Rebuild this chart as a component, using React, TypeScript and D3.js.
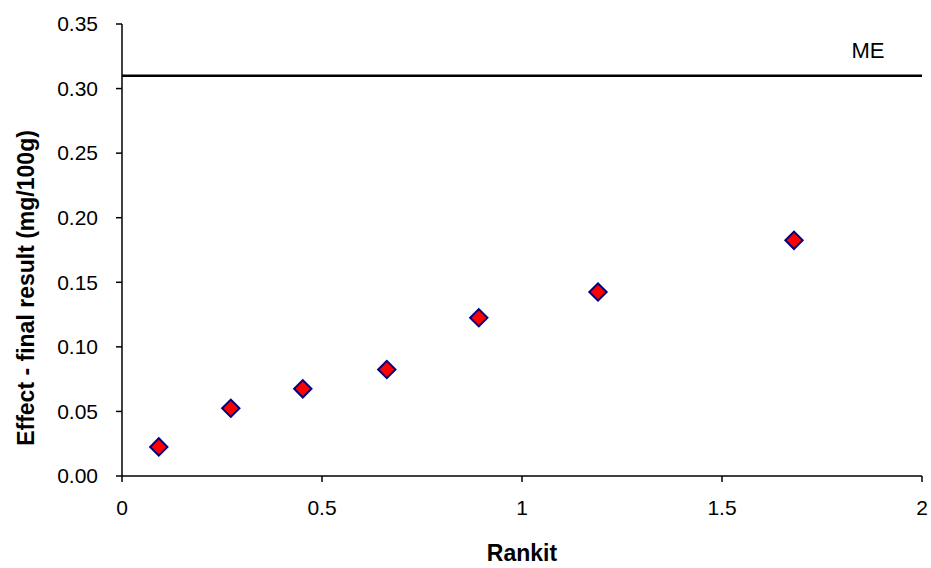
import React from "react";
import * as d3 from "d3";

const rankit = [0.092, 0.272, 0.452, 0.662, 0.892, 1.19, 1.68];
const effect = [0.0225, 0.0525, 0.0675, 0.0825, 0.1225, 0.1425, 0.1825];
const meValue = 0.31;
const meLabel = "ME";
const xTicks = [0, 0.5, 1, 1.5, 2];
const yTicks = [0, 0.05, 0.1, 0.15, 0.2, 0.25, 0.3, 0.35];
const xTitle = "Rankit";
const yTitle = "Effect - final result (mg/100g)";

export default function App() {
  const W = 931, H = 568;
  const left = 122, right = 922, top = 24, bottom = 476;
  const x = d3.scaleLinear().domain([0, 2]).range([left, right]);
  const y = d3.scaleLinear().domain([0, 0.35]).range([bottom, top]);
  const font = "'Liberation Sans', Arial, sans-serif";
  const diamond = d3.symbol().type(d3.symbolSquare).size(150)();
  return (
    <svg width={W} height={H} style={{ position: "absolute", left: 0, top: 0, background: "#fff" }} fontFamily={font}>
      <line x1={left} x2={left} y1={top} y2={bottom} stroke="#000" strokeWidth={1.5} />
      <line x1={left} x2={right} y1={bottom} y2={bottom} stroke="#000" strokeWidth={1.5} />
      {yTicks.map((t) => (
        <g key={"y" + t}>
          <line x1={left - 6} x2={left} y1={y(t)} y2={y(t)} stroke="#000" strokeWidth={1.5} />
          <text x={98} y={y(t)} dy="0.35em" textAnchor="end" fontSize={21} fill="#000">
            {t.toFixed(2)}
          </text>
        </g>
      ))}
      {xTicks.map((t) => (
        <g key={"x" + t}>
          <line x1={x(t)} x2={x(t)} y1={bottom} y2={bottom + 6} stroke="#000" strokeWidth={1.5} />
          <text x={x(t)} y={bottom + 39} textAnchor="middle" fontSize={21} fill="#000">
            {String(t)}
          </text>
        </g>
      ))}
      <line x1={left} x2={right} y1={y(meValue)} y2={y(meValue)} stroke="#000" strokeWidth={2.5} />
      <text x={868} y={58} textAnchor="middle" fontSize={22} fill="#000">{meLabel}</text>
      {rankit.map((r, i) => (
        <path
          key={i}
          d={diamond}
          transform={`translate(${x(r)},${y(effect[i])}) rotate(45)`}
          fill="#ff0000"
          stroke="#000080"
          strokeWidth={2}
        />
      ))}
      <text x={522} y={561} textAnchor="middle" fontSize={23} fontWeight="bold" fill="#000">{xTitle}</text>
      <text transform={`translate(34,288) rotate(-90)`} textAnchor="middle" fontSize={23} fontWeight="bold" fill="#000">{yTitle}</text>
    </svg>
  );
}
